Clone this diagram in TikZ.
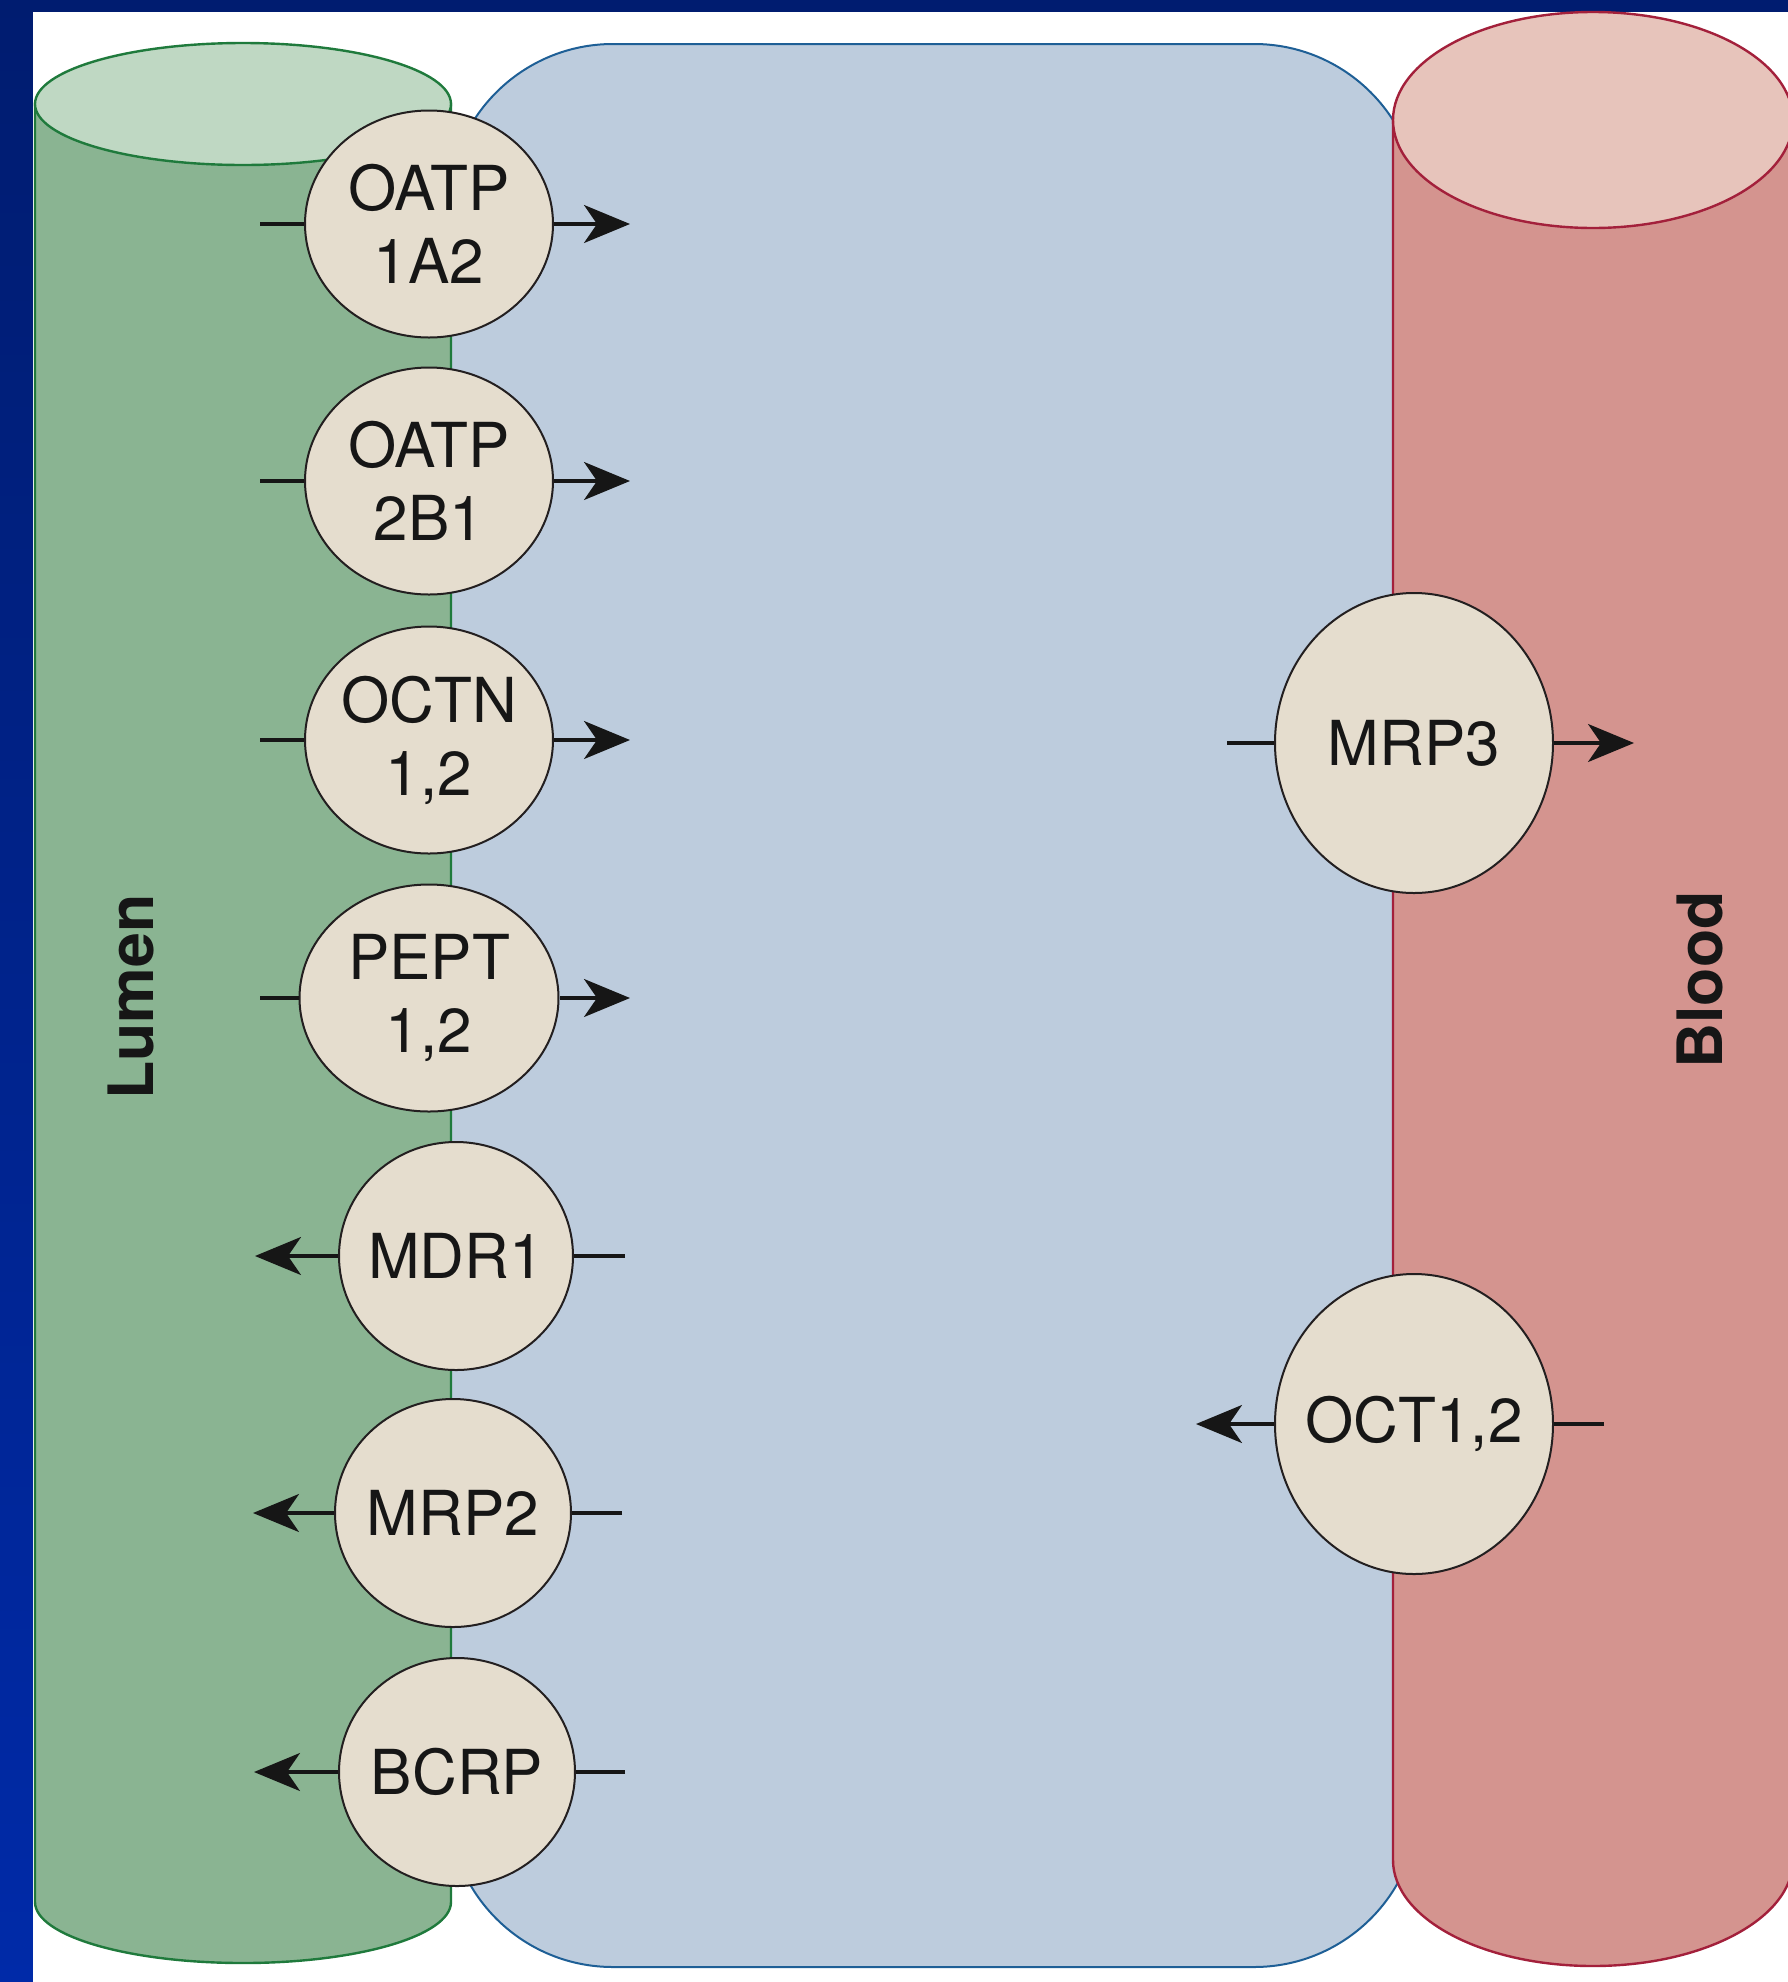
\documentclass[tikz,border=0pt]{standalone}
\usepackage{fontspec}
\setmainfont{TeX Gyre Heros}
\usetikzlibrary{arrows.meta,shapes.geometric}
\definecolor{navytop}{RGB}{0,28,112}
\definecolor{navybot}{RGB}{0,42,168}
\definecolor{greenside}{RGB}{138,180,146}
\definecolor{greentop}{RGB}{191,216,195}
\definecolor{greenline}{RGB}{31,122,60}
\definecolor{bluefill}{RGB}{189,204,221}
\definecolor{blueline}{RGB}{30,95,150}
\definecolor{redside}{RGB}{212,148,143}
\definecolor{redtop}{RGB}{231,196,187}
\definecolor{redline}{RGB}{163,32,59}
\definecolor{transfill}{RGB}{229,221,206}
\definecolor{transline}{RGB}{35,31,32}
\definecolor{inkc}{RGB}{22,22,22}
\begin{document}
\begin{tikzpicture}[x=0.5pt,y=-0.5pt,
  trans/.style={ellipse, draw=transline, line width=1pt, fill=transfill,
    inner xsep=-35pt, inner ysep=0pt, align=center, text=inkc,
    font=\fontsize{31}{36.5}\selectfont},
  lefttr/.style={trans, minimum width=124pt, minimum height=113.5pt},
  lowtr/.style={trans, minimum width=118pt, minimum height=114pt},
  righttr/.style={trans, minimum width=139pt, minimum height=150pt},
  flow/.style={draw=inkc, line width=1.6pt},
  flowarrow/.style={flow, -{Stealth[length=23pt, width=19pt, inset=6.5pt]}},
  sidelabel/.style={rotate=90, font=\fontsize{31.3}{36}\selectfont\bfseries, text=inkc, inner sep=0pt}
]
\useasboundingbox (0,0) rectangle (1788,1982);
% slide background
\shade[top color=navytop, bottom color=navybot] (0,0) rectangle (1788,1982);
\fill[white] (33,12) rectangle (1788,1982);

% cell (enterocyte)
\draw[fill=bluefill, draw=blueline, line width=1pt, rounded corners=82.5pt] (448,44) rectangle (1419,1967);

% lumen cylinder
\path[fill=greenside, draw=greenline, line width=1.2pt] (35,104) -- (35,1902)
  arc[start angle=180, end angle=0, x radius=208, y radius=61] -- (451,104) -- cycle;
\draw[fill=greentop, draw=greenline, line width=1.2pt] (243,104) ellipse[x radius=208, y radius=61];

% blood cylinder
\path[fill=redside, draw=redline, line width=1.2pt] (1393,120) -- (1393,1860)
  arc[start angle=180, end angle=0, x radius=200, y radius=106] -- (1793,120) -- cycle;
\draw[fill=redtop, draw=redline, line width=1.2pt] (1593,120) ellipse[x radius=200, y radius=108];

% labels
\node[sidelabel] (lumen) at (131,997) {Lumen};
\node[sidelabel] (blood) at (1700,980) {Blood};

% transporters, apical side
\node[lefttr] (oatpa) at (429,224) {OATP\\1A2};
\node[lefttr] (oatpb) at (429,481) {OATP\\2B1};
\node[lefttr] (octn) at (429,740) {OCTN\\1,2};
\node[lefttr, minimum width=129.5pt] (pept) at (429,998) {PEPT\\1,2};
\node[lowtr, minimum width=117pt] (mdr) at (456,1256) {MDR1};
\node[lowtr] (mrpb) at (453,1513) {MRP2};
\node[lowtr] (bcrp) at (457,1772) {BCRP};
% transporters, basolateral side
\node[righttr] (mrpc) at (1414,743) {MRP3};
\node[righttr] (oct) at (1414,1424) {OCT1,2};

% free ends of connectors
\coordinate (oatpa-in) at (260,224);  \coordinate (oatpa-out) at (630,224);
\coordinate (oatpb-in) at (260,481);  \coordinate (oatpb-out) at (630,481);
\coordinate (octn-in) at (260,740);   \coordinate (octn-out) at (630,740);
\coordinate (pept-in) at (260,998);   \coordinate (pept-out) at (630,998);
\coordinate (mdr-in) at (625,1256);   \coordinate (mdr-out) at (255,1256);
\coordinate (mrpb-in) at (622,1513);  \coordinate (mrpb-out) at (253,1513);
\coordinate (bcrp-in) at (625,1772);  \coordinate (bcrp-out) at (254,1772);
\coordinate (mrpc-in) at (1227,743);  \coordinate (mrpc-out) at (1634,743);
\coordinate (oct-in) at (1604,1424);  \coordinate (oct-out) at (1196,1424);

% connectors
\foreach \n/\a/\b in {oatpa/west/east, oatpb/west/east, octn/west/east, pept/west/east,
                      mdr/east/west, mrpb/east/west, bcrp/east/west,
                      mrpc/west/east, oct/east/west} {
  \draw[flow] (\n-in) -- (\n.\a);
  \draw[flowarrow] (\n.\b) -- (\n-out);
}
\end{tikzpicture}
\end{document}
